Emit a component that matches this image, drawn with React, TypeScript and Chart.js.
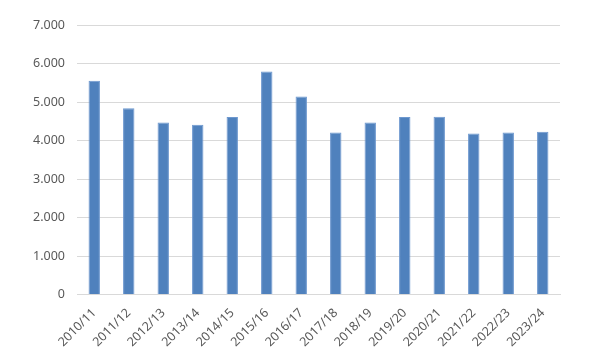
import React, { useEffect, useRef } from "react";
import { Chart, registerables } from "chart.js";

Chart.register(...registerables);

const categories = [
  "2010/11", "2011/12", "2012/13", "2013/14", "2014/15", "2015/16", "2016/17",
  "2017/18", "2018/19", "2019/20", "2020/21", "2021/22", "2022/23", "2023/24",
];
const values = [5550, 4840, 4465, 4410, 4610, 5795, 5140, 4205, 4465, 4610, 4620, 4180, 4205, 4230];
const yMax = 7000;
const yStep = 1000;

function fmt(v: number): string {
  return String(Math.round(v)).replace(/\B(?=(\d{3})+(?!\d))/g, ".");
}

export default function App() {
  const ref = useRef<HTMLCanvasElement | null>(null);
  useEffect(() => {
    document.body.style.margin = "0";
    const ctx = ref.current!;
    const chart = new Chart(ctx, {
      type: "bar",
      data: {
        labels: categories,
        datasets: [
          {
            data: values,
            backgroundColor: "#4f81bd",
            borderColor: "#6d98cf",
            borderWidth: 1,
            categoryPercentage: 1,
            barPercentage: 0.33,
          },
        ],
      },
      options: {
        animation: false,
        responsive: false,
        maintainAspectRatio: false,
        layout: { padding: { top: 25, right: 40, left: 0, bottom: 0 } },
        plugins: { legend: { display: false }, tooltip: { enabled: false } },
        scales: {
          x: {
            grid: { display: false, drawTicks: false },
            border: { display: true, color: "#d9d9d9", width: 1 },
            ticks: {
              color: "#595959",
              font: { family: "'Noto Sans', sans-serif", size: 12.5 },
              minRotation: 45,
              maxRotation: 45,
              autoSkip: false,
              padding: 11,
            },
            afterFit: (s: any) => { s.height = 66.5; },
          },
          y: {
            min: 0,
            max: yMax,
            grid: { color: "#d9d9d9", lineWidth: 1, drawTicks: false },
            border: { display: false },
            ticks: {
              stepSize: yStep,
              color: "#595959",
              font: { family: "'Noto Sans', sans-serif", size: 12.5 },
              padding: 12,
              callback: (v: any) => fmt(Number(v)),
            },
            afterFit: (s: any) => { s.width = 77; },
          },
        },
      },
    });
    return () => chart.destroy();
  }, []);
  return (
    <div style={{ position: "absolute", left: 0, top: 0, width: 600, height: 361, background: "#fff" }}>
      <canvas ref={ref} width={600} height={361} style={{ width: 600, height: 361 }} />
    </div>
  );
}
